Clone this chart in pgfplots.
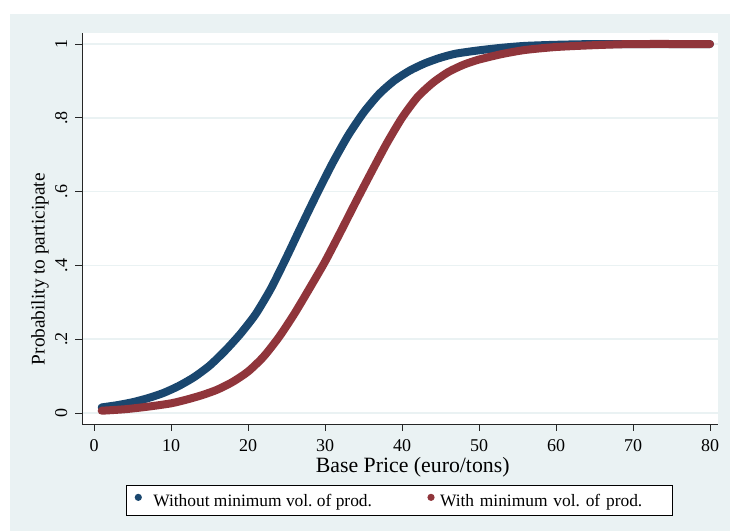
\documentclass[border=0pt]{standalone}
\usepackage{fontspec}
\setmainfont{Liberation Serif}
\usepackage{pgfplots}
\pgfplotsset{compat=1.18}
\frenchspacing

\definecolor{bgc}{RGB}{234,242,243}
\definecolor{gridc}{RGB}{234,242,243}
\definecolor{navy}{RGB}{26,71,111}
\definecolor{maroon}{RGB}{144,53,59}

\begin{document}
\begin{tikzpicture}[x=1bp,y=1bp]
% page and graph region
\fill[white] (0,0) rectangle (730,531);
\fill[bgc] (10,0) rectangle (730,517);
\useasboundingbox (0,0) rectangle (730,531);

\begin{axis}[
  at={(82bp,107bp)}, anchor=south west,
  scale only axis, width=636bp, height=391bp,
  xmin=-1.56, xmax=81.04, ymin=-0.03, ymax=1.03,
  axis background/.style={fill=white},
  axis x line*=bottom, axis y line*=left,
  axis line style={black!85, line width=0.9bp},
  tick align=outside, major tick length=7bp,
  tick style={black!85, line width=0.8bp},
  xtick={0,10,...,80},
  xticklabels={0,10,20,30,40,50,60,70,80},
  ytick={0,0.2,0.4,0.6,0.8,1},
  yticklabels={0,.2,.4,.6,.8,1},
  ymajorgrids, major grid style={gridc, line width=1.5bp},
  tick label style={font=\fontsize{18bp}{20bp}\selectfont},
  xticklabel style={anchor=base, yshift=-21bp},
  yticklabel style={rotate=90, anchor=base, yshift=8bp},
  xlabel={Base Price (euro/tons)},
  xlabel style={font=\fontsize{21.8bp}{24bp}\selectfont, anchor=base, at={(axis description cs:0.520,-0.125)}},
  ylabel={Probability to participate},
  ylabel style={font=\fontsize{19.3bp}{22bp}\selectfont, inner sep=0pt, anchor=south, at={(axis description cs:-0.052,0.396)}},
  legend style={at={(axis description cs:0.499,-0.196)}, anchor=center,
    draw=black, line width=0.8bp, fill=white, legend columns=2,
    font=\fontsize{17.4bp}{20bp}\selectfont, inner xsep=8.5bp, inner ysep=8bp,
    nodes={inner sep=0pt},
    /tikz/column 1/.style={column sep=11.4bp},
    /tikz/column 2/.style={column sep=55.4bp},
    /tikz/column 3/.style={column sep=5.4bp},
    /tikz/column 4/.style={nodes={text width=224bp}}},
  legend image code/.code={\fill[#1, draw=none] (3.6bp,0.33em) circle (3.6bp);},
]
% predicted probability, no minimum production volume
\addplot[navy, line width=8bp, line cap=round, line join=round, smooth, tension=0.4] coordinates {
 (1,0.015) (3,0.021) (5,0.029) (7,0.040) (9,0.054) (11,0.073) (13,0.097)
 (15,0.128) (17,0.168) (19,0.214) (21,0.268) (23,0.338) (25,0.422)
 (27,0.510) (29,0.596) (31,0.678) (33,0.752) (35,0.814) (37,0.864)
 (39,0.901) (41,0.928) (43,0.948) (45,0.963) (47,0.974) (50,0.983)
 (53,0.990) (56,0.995) (60,0.998) (65,1.000) (70,1.000) (80,1.000)
};
\addlegendentry{Without minimum vol. of prod.}
% predicted probability, with minimum production volume
\addplot[maroon, line width=8bp, line cap=round, line join=round, smooth, tension=0.4] coordinates {
 (1,0.006) (4,0.010) (7,0.017) (10,0.026) (12,0.036) (14,0.048) (16,0.063)
 (18,0.084) (20,0.112) (22,0.152) (24,0.205) (26,0.268) (28,0.338)
 (30,0.410) (32,0.490) (34,0.572) (36,0.652) (38,0.730) (40,0.800)
 (42,0.856) (44,0.895) (46,0.924) (48,0.944) (50,0.958) (53,0.973)
 (56,0.984) (60,0.992) (65,0.997) (70,1.000) (80,1.000)
};
\addlegendentry{With minimum vol. of prod.}
\end{axis}
\end{tikzpicture}
\end{document}
